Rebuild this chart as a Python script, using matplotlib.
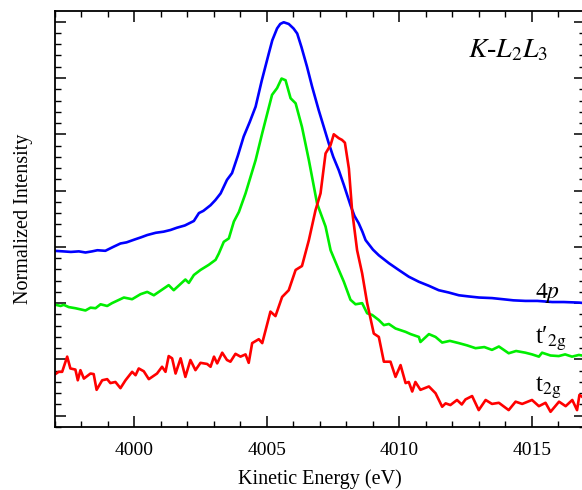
import matplotlib
matplotlib.use("Agg")
import matplotlib.pyplot as plt
from matplotlib.ticker import MultipleLocator

plt.rcParams['font.family'] = ['Liberation Serif', 'DejaVu Serif']
plt.rcParams['mathtext.fontset'] = 'stix'

# 4p curve (blue)
e_4p = [3996.95, 3997.3, 3997.6, 3997.9, 3998.15, 3998.4, 3998.6, 3998.9, 3999.2, 3999.47,
        3999.7, 4000.0, 4000.25, 4000.48, 4000.8, 4001.1, 4001.36, 4001.6, 4001.9, 4002.24,
        4002.43, 4002.6, 4002.87, 4003.05, 4003.25, 4003.49, 4003.68, 4003.9, 4004.12, 4004.35,
        4004.57, 4004.8, 4005.07, 4005.2, 4005.38, 4005.5, 4005.63, 4005.82, 4006.0, 4006.14,
        4006.3, 4006.51, 4006.7, 4006.95, 4007.15, 4007.33, 4007.5, 4007.71, 4007.9, 4008.15,
        4008.3, 4008.46, 4008.6, 4008.72, 4009.0, 4009.22, 4009.6, 4009.97, 4010.35, 4010.73,
        4011.1, 4011.48, 4011.85, 4012.24, 4012.6, 4013.0, 4013.49, 4013.9, 4014.3, 4014.75,
        4015.2, 4015.76, 4016.2, 4016.77, 4017.0]
i_4p = [2.93, 2.92, 2.91, 2.92, 2.90, 2.92, 2.94, 2.93, 3.00, 3.06,
        3.08, 3.13, 3.17, 3.21, 3.25, 3.27, 3.30, 3.34, 3.38, 3.46,
        3.60, 3.64, 3.74, 3.83, 3.95, 4.19, 4.31, 4.62, 4.96, 5.22,
        5.49, 5.95, 6.44, 6.67, 6.88, 6.96, 6.99, 6.96, 6.88, 6.79,
        6.55, 6.20, 5.85, 5.43, 5.12, 4.84, 4.60, 4.36, 4.10, 3.74,
        3.55, 3.42, 3.27, 3.12, 2.95, 2.85, 2.71, 2.59, 2.47, 2.38,
        2.31, 2.23, 2.19, 2.14, 2.12, 2.10, 2.09, 2.07, 2.05, 2.04,
        2.04, 2.02, 2.02, 2.01, 2.00]

# t'2g curve (green)
e_t2gp = [3996.95, 3997.21, 3997.33, 3997.52, 3997.77, 3998.15, 3998.34, 3998.53, 3998.72, 3998.97,
          3999.15, 3999.6, 3999.91, 4000.23, 4000.48, 4000.73, 4001.29, 4001.48, 4001.92, 4002.05,
          4002.24, 4002.49, 4002.8, 4003.06, 4003.18, 4003.37, 4003.56, 4003.75, 4003.94, 4004.19,
          4004.57, 4004.82, 4005.19, 4005.38, 4005.55, 4005.7, 4005.89, 4006.08, 4006.32, 4006.58,
          4006.89, 4007.21, 4007.4, 4007.71, 4007.9, 4008.15, 4008.34, 4008.59, 4008.78, 4008.97,
          4009.22, 4009.41, 4009.6, 4009.85, 4010.23, 4010.42, 4010.73, 4010.79, 4011.11, 4011.36,
          4011.61, 4011.9, 4012.24, 4012.55, 4012.87, 4013.2, 4013.49, 4013.75, 4014.12, 4014.4,
          4014.75, 4015.0, 4015.26, 4015.38, 4015.7, 4016.01, 4016.25, 4016.51, 4016.77, 4017.0]
i_t2gp = [1.98, 1.95, 1.97, 1.93, 1.91, 1.87, 1.92, 1.91, 1.98, 1.95,
          2.00, 2.10, 2.07, 2.16, 2.20, 2.14, 2.32, 2.23, 2.42, 2.36,
          2.50, 2.59, 2.68, 2.77, 2.88, 3.09, 3.15, 3.45, 3.62, 3.95,
          4.54, 5.02, 5.70, 5.82, 5.99, 5.96, 5.64, 5.55, 5.13, 4.54,
          3.77, 3.36, 2.94, 2.59, 2.38, 2.06, 1.98, 2.00, 1.82, 1.79,
          1.70, 1.61, 1.63, 1.55, 1.49, 1.45, 1.40, 1.31, 1.45, 1.40,
          1.30, 1.33, 1.29, 1.25, 1.20, 1.22, 1.17, 1.23, 1.11, 1.15,
          1.12, 1.09, 1.05, 1.12, 1.07, 1.06, 1.09, 1.05, 1.08, 1.06]

# t2g curve (red)
e_t2g = [3996.95, 3997.14, 3997.27, 3997.46, 3997.58, 3997.77, 3997.86, 3997.96, 3998.09, 3998.34,
         3998.46, 3998.57, 3998.78, 3998.97, 3999.09, 3999.28, 3999.47, 3999.66, 3999.91, 4000.04,
         4000.16, 4000.35, 4000.54, 4000.85, 4001.04, 4001.17, 4001.29, 4001.42, 4001.55, 4001.74,
         4001.92, 4002.11, 4002.3, 4002.49, 4002.74, 4002.87, 4003.0, 4003.12, 4003.31, 4003.49,
         4003.62, 4003.81, 4004.0, 4004.19, 4004.31, 4004.44, 4004.69, 4004.82, 4005.13, 4005.32,
         4005.57, 4005.82, 4006.08, 4006.32, 4006.58, 4006.83, 4007.02, 4007.21, 4007.4, 4007.52,
         4007.71, 4007.83, 4007.94, 4008.09, 4008.21, 4008.4, 4008.59, 4008.78, 4009.03, 4009.22,
         4009.41, 4009.66, 4009.85, 4010.04, 4010.23, 4010.35, 4010.48, 4010.6, 4010.79, 4011.11,
         4011.36, 4011.61, 4011.74, 4011.92, 4012.17, 4012.35, 4012.49, 4012.74, 4012.99, 4013.25,
         4013.49, 4013.75, 4014.12, 4014.38, 4014.63, 4015.0, 4015.26, 4015.51, 4015.7, 4016.02,
         4016.27, 4016.52, 4016.7, 4016.79, 4017.0]
i_t2g = [0.72, 0.78, 0.78, 1.05, 0.84, 0.82, 0.63, 0.81, 0.66, 0.75,
         0.74, 0.46, 0.63, 0.65, 0.58, 0.60, 0.49, 0.63, 0.78, 0.72,
         0.84, 0.79, 0.65, 0.75, 0.87, 0.78, 1.06, 1.02, 0.75, 1.02,
         0.69, 0.99, 0.81, 0.94, 0.92, 0.87, 1.05, 0.93, 1.12, 0.99,
         0.96, 1.10, 1.05, 1.09, 0.94, 1.29, 1.36, 1.29, 1.85, 1.77,
         2.11, 2.23, 2.59, 2.66, 3.12, 3.65, 3.95, 4.66, 4.81, 5.00,
         4.93, 4.90, 4.85, 4.39, 3.65, 2.94, 2.53, 2.00, 1.46, 1.40,
         0.96, 0.96, 0.69, 0.90, 0.58, 0.60, 0.43, 0.60, 0.46, 0.52,
         0.40, 0.16, 0.22, 0.19, 0.28, 0.20, 0.29, 0.35, 0.10, 0.28,
         0.21, 0.23, 0.10, 0.25, 0.21, 0.28, 0.17, 0.23, 0.07, 0.25,
         0.17, 0.28, 0.10, 0.37, 0.30]

fig = plt.figure(figsize=(5.82, 4.90), dpi=100)
ax = fig.add_axes([55 / 582, 63 / 490, 530 / 582, 416 / 490])

ax.plot(e_4p, i_4p, color='#0000ff', lw=1.9)
ax.plot(e_t2gp, i_t2gp, color='#00ee00', lw=1.9)
ax.plot(e_t2g, i_t2g, color='#ff0000', lw=1.9)

ax.set_xlim(3997, 4017)
ax.set_ylim(-0.2, 7.19)
ax.xaxis.set_major_locator(MultipleLocator(5))
ax.xaxis.set_minor_locator(MultipleLocator(1))
ax.yaxis.set_major_locator(MultipleLocator(1))
ax.yaxis.set_minor_locator(MultipleLocator(0.2))
ax.tick_params(which='both', direction='in', top=True, right=True, labelleft=False)
ax.tick_params(which='major', length=8, width=1.1, labelsize=14, pad=11)
ax.tick_params(which='minor', length=4, width=1.0)
for s in ax.spines.values():
    s.set_linewidth(1.3)

ax.set_xlabel('Kinetic Energy (eV)', fontsize=14.5, labelpad=7)
ax.set_ylabel('Normalized Intensity', fontsize=14.5, labelpad=16)

ax.text(4015.1, 2.10, r'4$p$', fontsize=17)
ax.text(4015.1, 1.28, r"t′$_{\rm 2g}$", fontsize=18)
ax.text(4015.1, 0.42, r"t$_{\rm 2g}$", fontsize=18)
ax.text(4012.6, 6.37, r'$K$-$L_2L_3$', fontsize=20)

fig.savefig('out.png', dpi=100)
